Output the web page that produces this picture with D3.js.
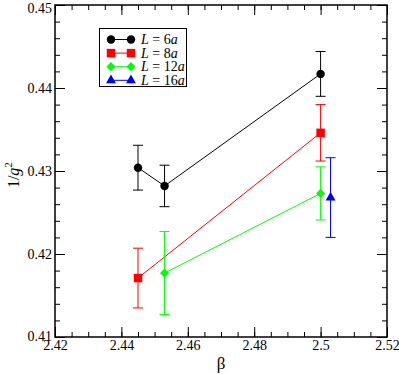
<!DOCTYPE html>
<html>
<head>
<meta charset="utf-8">
<script src="https://cdn.jsdelivr.net/npm/d3@7"></script>
<style>
  body { margin: 0; background: #fff; }
  svg { display: block; }
  svg text { font-family: "Liberation Serif", "Times New Roman", "DejaVu Serif", serif; }
</style>
</head>
<body>
<div id="chart"></div>
<script>
// series: beta, 1/g^2, error
var seriesNames = ['6', '8', '12', '16'];
var seriesColors = ['#000000', '#ff0000', '#00ff00', '#0000ff'];
var seriesShapes = ['circle', 'square', 'diamond', 'triangle'];

var betaL6 = [2.445, 2.453, 2.5];
var valL6 = [0.4304, 0.4282, 0.4417];
var errL6 = [0.0027, 0.0025, 0.0027];

var betaL8 = [2.445, 2.5];
var valL8 = [0.4171, 0.4346];
var errL8 = [0.0036, 0.0034];

var betaL12 = [2.453, 2.5];
var valL12 = [0.4177, 0.4273];
var errL12 = [0.0050, 0.0032];

var betaL16 = [2.503];
var valL16 = [0.4268];
var errL16 = [0.0048];

var xTicks = [2.42, 2.44, 2.46, 2.48, 2.5, 2.52];
var yTicks = [0.41, 0.42, 0.43, 0.44, 0.45];

var W = 399, H = 374;
var margin = {top: 5, right: 12, bottom: 37, left: 55};
var serif = '"Liberation Serif", "Times New Roman", "DejaVu Serif", serif';

var x = d3.scaleLinear().domain([2.42, 2.52]).range([margin.left, W - margin.right]);
var y = d3.scaleLinear().domain([0.41, 0.45]).range([H - margin.bottom, margin.top]);

function makeSeries(b, v, e) {
    return b.map(function(d, i) { return {x: d, y: v[i], e: e[i]}; });
}
var allSeries = [
    makeSeries(betaL6, valL6, errL6),
    makeSeries(betaL8, valL8, errL8),
    makeSeries(betaL12, valL12, errL12),
    makeSeries(betaL16, valL16, errL16)
];

var svg = d3.select('#chart').append('svg')
    .attr('width', W)
    .attr('height', H)
    .attr('font-family', serif);

// ticks pointing inward on all four sides
var minorX = d3.range(2.42, 2.5201, 0.005);
var minorY = d3.range(0.41, 0.45001, 0.002);
var fmt = function(d) { return d3.format('')(+d.toFixed(3)); };

function inward(axis, size, minor) {
    return axis.tickSizeInner(-size).tickSizeOuter(0).tickPadding(minor ? 0 : 3);
}

var bottom = H - margin.bottom, right = W - margin.right;

svg.append('g').attr('transform', 'translate(0,' + bottom + ')')
    .call(inward(d3.axisBottom(x).tickValues(minorX).tickFormat(''), 5, true));
svg.append('g').attr('transform', 'translate(0,' + bottom + ')')
    .call(inward(d3.axisBottom(x).tickValues(xTicks).tickFormat(fmt), 10))
    .attr('class', 'xlab');
svg.append('g').attr('transform', 'translate(0,' + margin.top + ')')
    .call(inward(d3.axisTop(x).tickValues(minorX).tickFormat(''), 5, true));
svg.append('g').attr('transform', 'translate(0,' + margin.top + ')')
    .call(inward(d3.axisTop(x).tickValues(xTicks).tickFormat(''), 10, true));

svg.append('g').attr('transform', 'translate(' + margin.left + ',0)')
    .call(inward(d3.axisLeft(y).tickValues(minorY).tickFormat(''), 5, true));
svg.append('g').attr('transform', 'translate(' + margin.left + ',0)')
    .call(inward(d3.axisLeft(y).tickValues(yTicks).tickFormat(fmt), 10))
    .attr('class', 'ylab');
svg.append('g').attr('transform', 'translate(' + right + ',0)')
    .call(inward(d3.axisRight(y).tickValues(minorY).tickFormat(''), 5, true));
svg.append('g').attr('transform', 'translate(' + right + ',0)')
    .call(inward(d3.axisRight(y).tickValues(yTicks).tickFormat(''), 10, true));

svg.selectAll('g').attr('font-family', serif).attr('font-size', 14);
svg.selectAll('.domain').remove();
svg.selectAll('.tick line').attr('stroke', '#000').attr('stroke-width', 1);
svg.selectAll('.tick text').attr('fill', '#000');
// top label sits a little lower so it stays inside the page, bottom one a bit higher
svg.selectAll('.ylab .tick text').attr('dy', function(d) {
    return d === 0.45 ? '0.5em' : (d === 0.41 ? '0.25em' : '0.35em');
});

// frame
svg.append('rect')
    .attr('x', margin.left).attr('y', margin.top)
    .attr('width', right - margin.left).attr('height', bottom - margin.top)
    .attr('fill', 'none').attr('stroke', '#000').attr('stroke-width', 1.5);

// axis titles
svg.append('text')
    .attr('x', x(2.47)).attr('y', 369)
    .attr('text-anchor', 'middle')
    .attr('font-size', 17)
    .text('β');

var yl = svg.append('text')
    .attr('transform', 'translate(19,' + y(0.4295) + ') rotate(-90)')
    .attr('text-anchor', 'middle')
    .attr('font-size', 16);
yl.append('tspan').text('1/');
yl.append('tspan').attr('font-style', 'italic').text('g');
yl.append('tspan').attr('dy', -7).attr('font-size', 11).text('2');

// markers
var symbolTypes = {
    circle: d3.symbolCircle,
    square: d3.symbolSquare,
    diamond: d3.symbolSquare,
    triangle: d3.symbolTriangle
};
var symbolSizes = {circle: 56, square: 72, diamond: 42, triangle: 42};

function marker(g, shape, color, cx, cy) {
    g.append('path')
        .attr('d', d3.symbol().type(symbolTypes[shape]).size(symbolSizes[shape])())
        .attr('transform', 'translate(' + cx + ',' + cy + ')' + (shape === 'diamond' ? ' rotate(45)' : ''))
        .attr('fill', color);
}

var line = d3.line().x(function(d) { return x(d.x); }).y(function(d) { return y(d.y); });
var cap = 5;

allSeries.forEach(function(s, k) {
    var color = seriesColors[k];
    var g = svg.append('g');
    g.append('path')
        .datum(s)
        .attr('d', line)
        .attr('fill', 'none')
        .attr('stroke', color)
        .attr('stroke-width', 1);
    s.forEach(function(d) {
        var px = x(d.x), top = y(d.y + d.e), bot = y(d.y - d.e);
        g.append('line').attr('x1', px).attr('x2', px).attr('y1', top).attr('y2', bot)
            .attr('stroke', color).attr('stroke-width', 1);
        g.append('line').attr('x1', px - cap).attr('x2', px + cap).attr('y1', top).attr('y2', top)
            .attr('stroke', color).attr('stroke-width', 1);
        g.append('line').attr('x1', px - cap).attr('x2', px + cap).attr('y1', bot).attr('y2', bot)
            .attr('stroke', color).attr('stroke-width', 1);
        marker(g, seriesShapes[k], color, px, y(d.y));
    });
});

// legend
var lg = svg.append('g');
lg.append('rect')
    .attr('x', 99.5).attr('y', 28.5).attr('width', 87).attr('height', 58)
    .attr('fill', '#fff').attr('stroke', '#000').attr('stroke-width', 1);

seriesNames.forEach(function(name, k) {
    var ly = 39.5 + k * 13.6;
    var color = seriesColors[k];
    lg.append('line').attr('x1', 111).attr('x2', 131).attr('y1', ly).attr('y2', ly)
        .attr('stroke', color).attr('stroke-width', 1);
    marker(lg, seriesShapes[k], color, 111, ly);
    marker(lg, seriesShapes[k], color, 131, ly);
    var t = lg.append('text').attr('x', 141).attr('y', ly + 4.5).attr('font-size', 14);
    t.append('tspan').attr('font-style', 'italic').text('L');
    t.append('tspan').text(' = ' + name);
    t.append('tspan').attr('font-style', 'italic').text('a');
});
</script>
</body>
</html>
